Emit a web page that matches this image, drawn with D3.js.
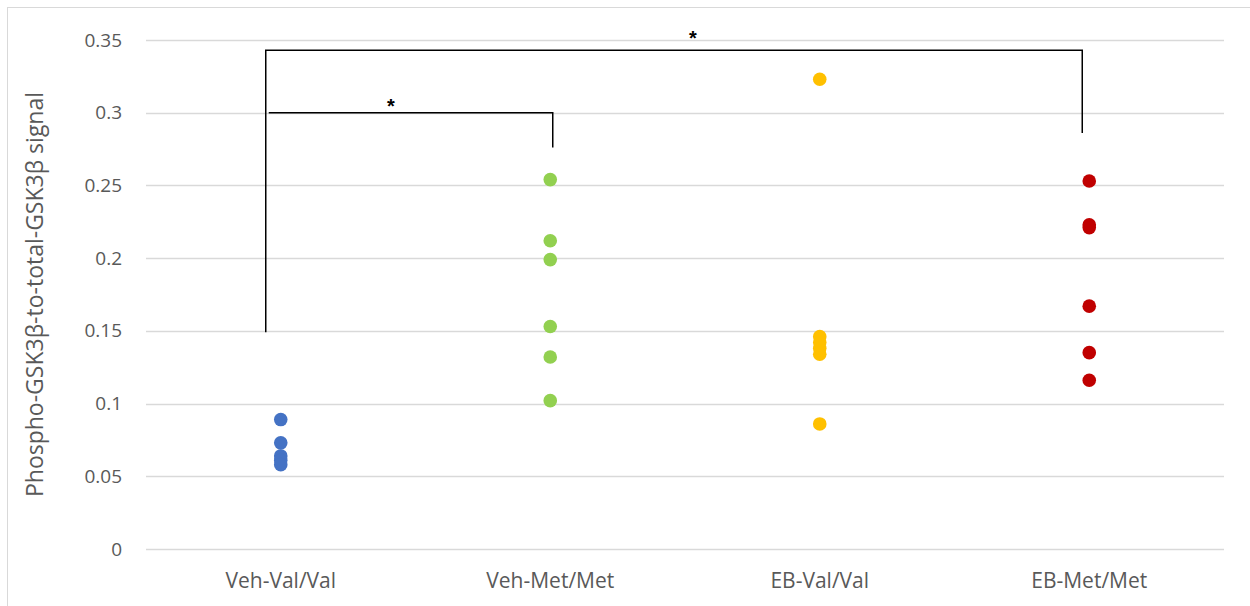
<!DOCTYPE html>
<html>
<head>
<meta charset="utf-8">
<script src="https://cdn.jsdelivr.net/npm/d3@7"></script>
<style>
  html, body { margin: 0; padding: 0; background: #fff; }
  svg { display: block; }
</style>
</head>
<body>
<svg id="chart" width="1250" height="606"></svg>
<script>
// Groups along the x axis
const groups = ["Veh-Val/Val", "Veh-Met/Met", "EB-Val/Val", "EB-Met/Met"];
const groupColors = ["#4472C4", "#92D050", "#FFC000", "#C00000"];

// Individual animal ratios per group
const vehVal = [0.089, 0.073, 0.064, 0.061, 0.058];
const vehMet = [0.254, 0.212, 0.199, 0.153, 0.132, 0.102];
const ebVal  = [0.323, 0.146, 0.142, 0.138, 0.134, 0.086];
const ebMet  = [0.253, 0.223, 0.221, 0.167, 0.135, 0.116];
const seriesValues = [vehVal, vehMet, ebVal, ebMet];

// Y axis ticks
const yTicks = [0, 0.05, 0.1, 0.15, 0.2, 0.25, 0.3, 0.35];
const yTickLabels = ["0", "0.05", "0.1", "0.15", "0.2", "0.25", "0.3", "0.35"];

// Significance brackets: groups compared, bar height, leg bottoms
const brackets = [
  { from: 0, to: 1, level: 0.300, leftEnd: null, rightEnd: 0.276 },
  { from: 0, to: 3, level: 0.343, leftEnd: 0.149, rightEnd: 0.286 }
];

const svg = d3.select("#chart");
const margin = { left: 146, right: 26, top: 40, bottom: 57 };
const W = 1250, H = 606;
const FONT = "'Open Sans', sans-serif";

// outer chart frame
svg.append("rect")
  .attr("x", 7.5).attr("y", 7.5)
  .attr("width", W + 10).attr("height", H)
  .attr("fill", "#fff").attr("stroke", "#d9d9d9").attr("stroke-width", 1);

const x = d3.scaleBand().domain(groups).range([margin.left, W - margin.right]);
const y = d3.scaleLinear().domain([0, 0.35]).range([H - margin.bottom, margin.top]);

// horizontal gridlines
svg.append("g").selectAll("line").data(yTicks).join("line")
  .attr("x1", margin.left).attr("x2", W - margin.right)
  .attr("y1", d => Math.round(y(d)) + 0.5).attr("y2", d => Math.round(y(d)) + 0.5)
  .attr("stroke", "#d9d9d9").attr("stroke-width", 1.3);

// y axis labels
const yAxis = d3.axisLeft(y).tickValues(yTicks)
  .tickFormat((d, i) => yTickLabels[i]).tickSize(0).tickPadding(24);
const gy = svg.append("g").attr("transform", `translate(${margin.left},0)`).call(yAxis);
gy.select(".domain").remove();
gy.selectAll("text")
  .attr("font-family", FONT)
  .attr("font-size", 19).attr("fill", "#595959");

// x axis labels
const xAxis = d3.axisBottom(x).tickSize(0).tickPadding(24);
const gx = svg.append("g").attr("transform", `translate(0,${y(0)})`).call(xAxis);
gx.select(".domain").remove();
gx.selectAll("text")
  .attr("font-family", FONT)
  .attr("font-size", 21).attr("fill", "#595959");

// y axis title
svg.append("text")
  .attr("transform", `translate(43,${(y(0) + y(0.35)) / 2}) rotate(-90)`)
  .attr("text-anchor", "middle")
  .attr("font-family", FONT)
  .attr("font-size", 23).attr("fill", "#595959")
  .text("Phospho-GSK3β-to-total-GSK3β signal");

// data points
groups.forEach((g, i) => {
  svg.append("g").selectAll("circle").data(seriesValues[i]).join("circle")
    .attr("cx", x(g) + x.bandwidth() / 2)
    .attr("cy", d => y(d))
    .attr("r", 6.8)
    .attr("fill", groupColors[i]);
});

// significance brackets
const bx = i => x(groups[i]) + x.bandwidth() / 2;
const bg = svg.append("g").attr("fill", "none").attr("stroke", "#000").attr("stroke-width", 1.5);
brackets.forEach((b, k) => {
  const xl = k === 0 ? bx(b.from) - 12 : bx(b.from) - 15;
  const xr = k === 0 ? bx(b.to) + 2.5 : bx(b.to) - 7;
  if (b.leftEnd !== null) {
    bg.append("path").attr("d", `M${xl},${y(b.leftEnd)}V${y(b.level)}H${xr}V${y(b.rightEnd)}`);
  } else {
    bg.append("path").attr("d", `M${xl},${y(b.level)}H${xr}V${y(b.rightEnd)}`);
  }
  svg.append("text")
    .attr("x", k === 0 ? 391 : 693)
    .attr("y", y(b.level) + (k === 0 ? 0 : -5))
    .attr("text-anchor", "middle")
    .attr("font-family", "'Liberation Sans', sans-serif")
    .attr("font-weight", "bold")
    .attr("font-size", 20)
    .text("*");
});
</script>
</body>
</html>
